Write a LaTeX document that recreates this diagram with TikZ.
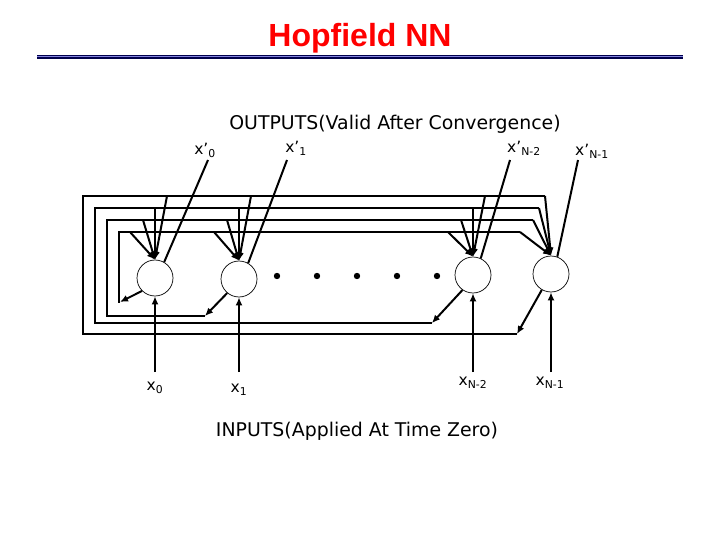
\documentclass[tikz,border=0pt]{standalone}
\usepackage{fontspec}
\setmainfont{DejaVu Sans}
\newfontfamily\titlefont{Liberation Sans}
\usetikzlibrary{arrows.meta}
\begin{document}
\begin{tikzpicture}[x=1pt,y=-1pt,
  neuron/.style={draw,circle,minimum size=36pt,inner sep=0pt,line width=0.7pt},
  fb/.style={line width=2pt,-{Latex[length=8pt,width=7pt]}},
  loopline/.style={line width=1.3pt},
  outl/.style={line width=2pt},
  inl/.style={line width=2pt,-{Latex[length=8pt,width=7pt]}},
  lbl/.style={font=\fontsize{15.5}{15.5}\selectfont},
  big/.style={font=\fontsize{18.9}{18.9}\selectfont}]
\useasboundingbox (0,0) rectangle (720,540);
\node[font=\titlefont\bfseries\fontsize{32}{32}\selectfont,text=red] (title) at (360,38) {Hopfield NN};
\draw[line width=4pt,color=blue!30!black] (37,57) -- (683,57);
\draw[line width=1pt,color=blue!60!gray!60] (37,57) -- (683,57);

\node[neuron] (n0) at (155,278) {};
\node[neuron] (n1) at (239,279) {};
\node[neuron] (n2) at (473,275) {};
\node[neuron] (n3) at (551,274) {};

\foreach \x [count=\i] in {277,317,357,397,437} \fill (\x,276) circle (3.2pt);

% loops
\coordinate (e0) at (120,302); \coordinate (e1) at (205,316);
\coordinate (e2) at (432,323); \coordinate (e3) at (517,334);
\draw[fb] (n0.225) -- (e0);
\draw[fb] (n1.230) -- (e1);
\draw[fb] (n2.235) -- (e2);
\draw[fb] (n3.240) -- (e3);
\draw[loopline] (e0) -- (119,302) -- (119,232) -- (520,232);
\draw[loopline] (e1) -- (107,316) -- (107,220) -- (533,220);
\draw[loopline] (e2) -- (95,323) -- (95,208) -- (539,208);
\draw[loopline] (e3) -- (83,334) -- (83,196) -- (545,196);
% feedback drops
\foreach \n/\x in {n0/155,n1/239,n2/473}{
  \draw[fb] (\x+12,196) -- (\n.north);
  \draw[fb] (\x,208) -- (\n.north);
  \draw[fb] (\x-12,220) -- (\n.north);
  \draw[fb] (\x-25,232) -- (\n.north);
}
\draw[fb] (545,196) -- (n3.north);
\draw[fb] (539,208) -- (n3.north);
\draw[fb] (533,220) -- (n3.north);
\draw[fb] (520,232) -- (n3.north);

% outputs
\coordinate (o0) at (208,160); \coordinate (o1) at (287,160);
\coordinate (o2) at (510,160); \coordinate (o3) at (578,160);
\draw[outl] (n0.60) -- (o0);
\draw[outl] (n1.60) -- (o1);
\draw[outl] (n2.65) -- (o2);
\draw[outl] (n3.70) -- (o3);
\node[lbl] (lo0) at (205,150) {x’\textsubscript{0}};
\node[lbl] (lo1) at (296,148) {x’\textsubscript{1}};
\node[lbl] (lo2) at (524,148) {x’\textsubscript{N-2}};
\node[lbl] (lo3) at (592,151) {x’\textsubscript{N-1}};
\node[big] (outs) at (395,124) {OUTPUTS(Valid After Convergence)};

% inputs
\coordinate (i0) at (155,372); \coordinate (i1) at (239,372);
\coordinate (i2) at (473,372); \coordinate (i3) at (551,372);
\draw[inl] (i0) -- (n0.south);
\draw[inl] (i1) -- (n1.south);
\draw[inl] (i2) -- (n2.south);
\draw[inl] (i3) -- (n3.south);
\node[lbl] (li0) at (155,388) {x\textsubscript{0}};
\node[lbl] (li1) at (239,390) {x\textsubscript{1}};
\node[lbl] (li2) at (473,383) {x\textsubscript{N-2}};
\node[lbl] (li3) at (550,383) {x\textsubscript{N-1}};
\node[big] (ins) at (357,431) {INPUTS(Applied At Time Zero)};
\end{tikzpicture}
\end{document}
